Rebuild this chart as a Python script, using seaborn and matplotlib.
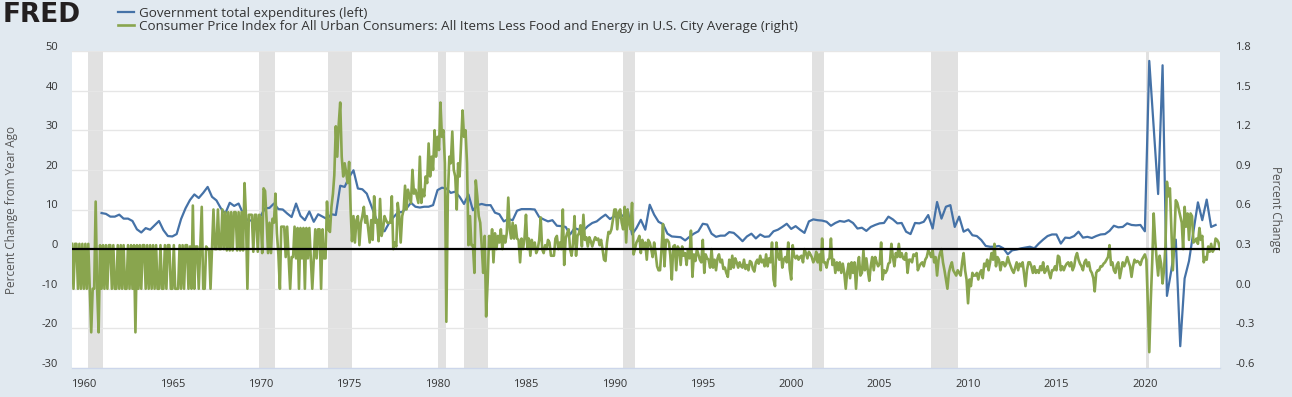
import pandas as pd
import matplotlib
matplotlib.use("Agg")
import matplotlib.pyplot as plt
import matplotlib.dates as mdates
import matplotlib.transforms as mtransforms
import seaborn as sns

# Government total expenditures, percent change from year ago (quarterly, from 1961Q1)
gov_1960s = [9.1, 8.9, 8.2, 8.2, 8.7, 7.7, 7.7, 7.1, 5.0, 4.2, 5.3, 4.9,
             6.0, 7.1, 4.8, 3.3, 3.2, 3.8, 7.6, 10.3, 12.4, 13.8, 12.9, 14.2,
             15.7, 13.2, 12.3, 10.3, 9.0, 11.7, 10.9, 11.5, 9.0, 7.3, 7.2, 6.6]
gov_1970s = [8.4, 10.3, 10.4, 11.5, 10.1, 10.0, 9.0, 8.1, 11.5, 8.4, 7.3, 9.5,
             6.9, 8.8, 8.2, 7.6, 8.8, 8.6, 16.0, 15.7, 18.2, 19.9, 15.3, 15.1,
             14.0, 11.0, 8.0, 5.5, 4.5, 6.5, 8.0, 9.2, 9.4, 10.3, 11.7, 10.7,
             10.5, 10.7, 10.7, 11.1]
gov_1980s = [14.9, 15.5, 15.3, 14.2, 14.5, 13.2, 11.4, 13.8, 9.8, 11.1, 11.4, 11.1,
             11.1, 9.2, 8.8, 7.0, 7.6, 7.3, 9.7, 10.1, 10.1, 10.1, 10.0, 8.1,
             7.5, 7.0, 7.3, 5.9, 5.8, 5.6, 3.7, 5.3, 4.9, 4.7, 5.8, 6.6,
             7.0, 7.9, 8.7, 7.6]
gov_1990s = [8.3, 7.9, 8.5, 10.0, 3.7, 5.3, 7.4, 4.9, 11.2, 8.7, 6.9, 6.3,
             3.9, 3.2, 3.1, 3.0, 2.2, 3.1, 3.9, 4.5, 6.4, 6.2, 3.9, 3.1,
             3.4, 3.4, 4.3, 4.1, 3.1, 2.0, 3.2, 3.9, 2.7, 3.7, 3.1, 3.2,
             4.5, 4.9, 5.6, 6.4]
gov_2000s = [5.1, 5.8, 4.9, 4.1, 7.0, 7.5, 7.3, 7.2, 6.9, 5.9, 6.6, 7.1,
             6.9, 7.3, 6.6, 5.2, 5.4, 4.6, 5.6, 6.1, 6.5, 6.6, 8.2, 7.5,
             6.5, 6.6, 4.4, 3.8, 6.6, 6.5, 6.9, 8.6, 5.2, 11.9, 7.7, 10.7,
             11.1, 5.6, 8.2, 4.4]
gov_2010s = [5.0, 3.5, 3.3, 2.3, 0.8, 0.6, 0.6, 0.8, 0.2, -1.3, -0.3, -0.1,
             0.2, 0.4, 0.6, 0.2, 1.4, 2.4, 3.3, 3.7, 3.7, 1.4, 2.9, 2.8,
             3.3, 4.4, 2.9, 3.1, 2.8, 3.3, 3.7, 3.8, 4.6, 5.9, 5.5, 5.6,
             6.5, 6.1, 6.0, 6.1]
gov_2020s = [4.5, 47.5, 30.7, 13.9, 46.4, -11.8, -5.3, 2.4, -24.5, -7.4, -3.0, 4.5,
             11.8, 7.3, 12.5, 5.6, 6.1]

# Core CPI, percent change (monthly, from May 1959)
cpi_1950s = [0.34, 0.0, 0.34, 0.34, 0.0, 0.34, 0.0, 0.34]
cpi_1960s = [0.0, 0.34, 0.0, 0.34, 0.0, -0.33, 0.0, 0.0, 0.66, 0.0, -0.33, 0.33,
             0.0, 0.33, 0.0, 0.33, 0.0, 0.33, 0.33, 0.0, 0.33, 0.0, 0.0, 0.33,
             0.0, 0.33, 0.0, 0.33, 0.0, 0.0, 0.33, 0.0, 0.33, 0.0, 0.33, -0.33,
             0.33, 0.0, 0.33, 0.0, 0.33, 0.33, 0.0, 0.33, 0.0, 0.33, 0.0, 0.33,
             0.0, 0.33, 0.0, 0.0, 0.33, 0.0, 0.0, 0.33, 0.0, 0.33, 0.33, 0.0,
             0.0, 0.33, 0.0, 0.0, 0.0, 0.33, 0.0, 0.33, 0.0, 0.33, 0.33, 0.0,
             0.32, 0.0, 0.63, 0.0, 0.32, 0.32, 0.0, 0.32, 0.62, 0.0, 0.0, 0.32,
             0.3, 0.3, 0.0, 0.3, 0.6, 0.3, 0.3, 0.6, 0.3, 0.3, 0.6, 0.3,
             0.58, 0.29, 0.58, 0.29, 0.58, 0.29, 0.58, 0.58, 0.29, 0.58, 0.29, 0.58,
             0.29, 0.8, 0.56, 0.0, 0.56, 0.56, 0.56, 0.28, 0.56, 0.56, 0.28, 0.56]
cpi_1970s = [0.53, 0.27, 0.76, 0.74, 0.53, 0.27, 0.5, 0.27, 0.53, 0.5, 0.72, 0.42,
             0.26, 0.0, 0.47, 0.47, 0.47, 0.24, 0.47, 0.24, 0.0, 0.24, 0.24, 0.47,
             0.23, 0.46, 0.0, 0.46, 0.23, 0.46, 0.0, 0.46, 0.23, 0.46, 0.23, 0.0,
             0.23, 0.45, 0.23, 0.45, 0.45, 0.0, 0.45, 0.23, 0.23, 0.66, 0.45, 0.43,
             0.62, 0.72, 0.86, 1.23, 1.0, 1.25, 1.41, 1.0, 0.85, 0.95, 0.88, 0.8,
             0.96, 0.6, 0.36, 0.55, 0.35, 0.52, 0.55, 0.33, 0.5, 0.55, 0.62, 0.5,
             0.55, 0.45, 0.35, 0.52, 0.37, 0.7, 0.5, 0.52, 0.36, 0.68, 0.4, 0.45,
             0.55, 0.52, 0.5, 0.5, 0.5, 0.7, 0.3, 0.35, 0.32, 0.65, 0.55, 0.35,
             0.55, 0.6, 0.78, 0.6, 0.75, 0.7, 0.65, 0.9, 0.72, 0.75, 0.7, 0.65,
             1.0, 0.65, 0.75, 0.7, 0.85, 0.8, 1.1, 0.85, 1.0, 0.9, 1.2, 1.0]
cpi_1980s = [1.15, 1.05, 1.41, 1.15, 1.2, 0.95, -0.25, 0.7, 1.0, 0.95, 1.19, 0.9,
             0.85, 0.6, 0.95, 0.85, 1.1, 1.35, 1.15, 1.2, 0.95, 0.33, 0.55, 0.33,
             0.33, 0.12, 0.82, 0.7, 0.55, 0.5, 0.33, 0.12, 0.4, -0.21, 0.05, 0.4,
             0.3, 0.45, 0.2, 0.42, 0.3, 0.4, 0.35, 0.45, 0.3, 0.4, 0.35, 0.42,
             0.69, 0.45, 0.38, 0.5, 0.38, 0.48, 0.38, 0.37, 0.2, 0.38, 0.3, 0.38,
             0.56, 0.3, 0.38, 0.25, 0.37, 0.3, 0.35, 0.27, 0.3, 0.37, 0.54, 0.3,
             0.27, 0.33, 0.3, 0.37, 0.35, 0.25, 0.25, 0.25, 0.38, 0.4, 0.3, 0.35,
             0.3, 0.6, 0.18, 0.38, 0.42, 0.45, 0.3, 0.25, 0.35, 0.55, 0.25, 0.4,
             0.42, 0.48, 0.32, 0.56, 0.37, 0.39, 0.32, 0.39, 0.36, 0.32, 0.36, 0.39,
             0.37, 0.38, 0.33, 0.37, 0.3, 0.22, 0.21, 0.35, 0.43, 0.42, 0.45, 0.52]
cpi_1990s = [0.6, 0.6, 0.45, 0.58, 0.6, 0.5, 0.45, 0.62, 0.35, 0.6, 0.5, 0.45,
             0.65, 0.26, 0.3, 0.35, 0.37, 0.4, 0.27, 0.37, 0.3, 0.35, 0.22, 0.37,
             0.35, 0.3, 0.24, 0.35, 0.27, 0.17, 0.14, 0.14, 0.3, 0.49, 0.17, 0.37,
             0.37, 0.35, 0.25, 0.07, 0.32, 0.33, 0.14, 0.32, 0.3, 0.18, 0.32, 0.25,
             0.27, 0.18, 0.3, 0.23, 0.44, 0.09, 0.26, 0.21, 0.3, 0.26, 0.22, 0.2,
             0.37, 0.12, 0.26, 0.23, 0.22, 0.16, 0.3, 0.16, 0.22, 0.14, 0.23, 0.26,
             0.2, 0.22, 0.15, 0.16, 0.12, 0.09, 0.22, 0.15, 0.25, 0.16, 0.23, 0.2,
             0.16, 0.2, 0.17, 0.16, 0.22, 0.15, 0.18, 0.14, 0.21, 0.2, 0.15, 0.13,
             0.2, 0.22, 0.19, 0.25, 0.2, 0.22, 0.17, 0.26, 0.17, 0.23, 0.2, 0.35,
             0.07, 0.02, 0.35, 0.25, 0.22, 0.3, 0.16, 0.22, 0.24, 0.2, 0.35, 0.15]
cpi_2000s = [0.07, 0.33, 0.25, 0.23, 0.25, 0.22, 0.24, 0.25, 0.2, 0.3, 0.27, 0.23,
             0.28, 0.26, 0.24, 0.2, 0.22, 0.28, 0.2, 0.26, 0.14, 0.38, 0.2, 0.2,
             0.16, 0.22, 0.23, 0.38, 0.18, 0.22, 0.12, 0.2, 0.14, 0.2, 0.12, 0.19,
             0.12, 0.0, 0.12, 0.19, 0.08, 0.2, 0.12, 0.2, 0.0, 0.17, 0.24, 0.1,
             0.12, 0.29, 0.14, 0.23, 0.14, 0.06, 0.17, 0.24, 0.14, 0.24, 0.2, 0.17,
             0.19, 0.35, 0.07, 0.14, 0.12, 0.14, 0.19, 0.2, 0.34, 0.24, 0.17, 0.27,
             0.24, 0.34, 0.24, 0.27, 0.23, 0.22, 0.27, 0.12, 0.22, 0.22, 0.2, 0.26,
             0.25, 0.27, 0.14, 0.17, 0.19, 0.2, 0.17, 0.22, 0.24, 0.29, 0.27, 0.24,
             0.29, 0.2, 0.24, 0.1, 0.22, 0.27, 0.3, 0.2, 0.14, 0.07, 0.0, 0.12,
             0.17, 0.2, 0.14, 0.12, 0.1, 0.14, 0.12, 0.1, 0.2, 0.27, 0.14, 0.07]
cpi_2010s = [-0.11, 0.07, 0.02, 0.12, 0.1, 0.1, 0.12, 0.07, 0.12, 0.14, 0.08, 0.19,
             0.17, 0.22, 0.14, 0.2, 0.27, 0.22, 0.34, 0.17, 0.24, 0.22, 0.14, 0.2,
             0.2, 0.17, 0.19, 0.24, 0.2, 0.17, 0.14, 0.12, 0.16, 0.2, 0.14, 0.19,
             0.17, 0.2, 0.12, 0.02, 0.14, 0.2, 0.2, 0.17, 0.12, 0.17, 0.12, 0.14,
             0.12, 0.17, 0.14, 0.2, 0.12, 0.14, 0.17, 0.12, 0.08, 0.14, 0.14, 0.17,
             0.14, 0.25, 0.24, 0.14, 0.17, 0.14, 0.17, 0.19, 0.2, 0.17, 0.2, 0.14,
             0.17, 0.24, 0.27, 0.22, 0.19, 0.17, 0.14, 0.2, 0.22, 0.17, 0.2, 0.14,
             0.12, 0.08, -0.02, 0.12, 0.14, 0.14, 0.17, 0.17, 0.19, 0.2, 0.22, 0.24,
             0.33, 0.18, 0.2, 0.14, 0.12, 0.18, 0.2, 0.08, 0.14, 0.2, 0.17, 0.2,
             0.24, 0.2, 0.17, 0.09, 0.17, 0.22, 0.2, 0.21, 0.2, 0.18, 0.22, 0.24]
cpi_2020s = [0.26, 0.22, -0.1, -0.48, -0.1, 0.2, 0.57, 0.37, 0.22, 0.1, 0.25, 0.19,
             0.04, 0.15, 0.32, 0.81, 0.7, 0.76, 0.45, 0.14, 0.38, 0.67, 0.65, 0.6,
             0.55, 0.5, 0.3, 0.62, 0.47, 0.57, 0.37, 0.57, 0.55, 0.35, 0.36, 0.38,
             0.34, 0.46, 0.37, 0.4, 0.2, 0.24, 0.22, 0.32, 0.28, 0.34, 0.28, 0.3,
             0.38, 0.37, 0.35, 0.3]

recession_starts = ["1960-04-01", "1969-12-01", "1973-11-01", "1980-01-01", "1981-07-01",
                    "1990-07-01", "2001-03-01", "2007-12-01", "2020-02-01"]
recession_ends = ["1961-02-01", "1970-11-01", "1975-03-01", "1980-07-01", "1982-11-01",
                  "1991-03-01", "2001-11-01", "2009-06-01", "2020-04-01"]

gov = gov_1960s + gov_1970s + gov_1980s + gov_1990s + gov_2000s + gov_2010s + gov_2020s
cpi = cpi_1950s + cpi_1960s + cpi_1970s + cpi_1980s + cpi_1990s + cpi_2000s + cpi_2010s + cpi_2020s
gov_df = pd.DataFrame({"date": pd.date_range("1961-01-01", periods=len(gov), freq="QS"), "value": gov})
cpi_df = pd.DataFrame({"date": pd.date_range("1959-05-01", periods=len(cpi), freq="MS"), "value": cpi})

plt.rcParams["font.family"] = ["Open Sans", "DejaVu Sans"]
plt.rcParams["axes.unicode_minus"] = False

blue = "#4572a7"
green = "#89a54e"
txt = "#333333"

fig = plt.figure(figsize=(12.92, 3.97), dpi=100, facecolor="#e1e9f0")
ax = fig.add_axes([72 / 1292, 29 / 397, 1148 / 1292, 317 / 397])
ax.set_facecolor("white")
ax2 = ax.twinx()
ax2.patch.set_visible(False)

for s, e in zip(recession_starts, recession_ends):
    ax.axvspan(pd.Timestamp(s), pd.Timestamp(e), color="#e1e1e1", lw=0, zorder=0)

sns.lineplot(data=gov_df, x="date", y="value", ax=ax, color=blue, lw=1.6, zorder=3)
sns.lineplot(data=cpi_df, x="date", y="value", ax=ax2, color=green, lw=1.9, zorder=3)
ax2.axhline(0.3, color="black", lw=1.6, zorder=5)

ax.set_xlim(pd.Timestamp("1959-05-01"), pd.Timestamp("2024-04-01"))
ax.set_ylim(-30, 50)
ax.set_yticks(range(-30, 51, 10))
ax2.set_ylim(-0.6, 1.8)
ax2.set_yticks([-0.6, -0.3, 0.0, 0.3, 0.6, 0.9, 1.2, 1.5, 1.8])
ax2.set_yticklabels(["{:.1f}".format(v) for v in ax2.get_yticks()])

ax.yaxis.grid(True, color="#e6e6e6", lw=1)
ax.set_axisbelow(True)
ax.xaxis.set_major_locator(mdates.YearLocator(5))
ax.xaxis.set_major_formatter(mdates.DateFormatter("%Y"))

for a in (ax, ax2):
    for side in ("top", "left", "right"):
        a.spines[side].set_visible(False)
    a.spines["bottom"].set_color("#ccd6eb")
    a.set_xlabel("")

ax.tick_params(axis="y", length=0, pad=10, labelsize=8, labelcolor=txt)
ax2.tick_params(axis="y", length=0, pad=11, labelsize=8, labelcolor=txt)
ax.tick_params(axis="x", length=0, pad=8, labelsize=8, labelcolor=txt)

# FRED draws y tick labels slightly above their gridline
shift = mtransforms.ScaledTranslation(0, 5 / 100, fig.dpi_scale_trans)
for lab in ax.get_yticklabels() + ax2.get_yticklabels():
    lab.set_transform(lab.get_transform() + shift)

ax.set_ylabel("Percent Change from Year Ago", fontsize=8.5, color="#555555")
ax.yaxis.set_label_coords(-54 / 1148, 0.5)
ax2.set_ylabel("Percent Change", fontsize=8.5, color="#555555", rotation=270, va="center")
ax2.yaxis.set_label_coords(1 + 55 / 1148, 0.5)

fig.text(3 / 1292, 1 - 2 / 397, "FRED", fontsize=19, fontweight="bold", color="#231f20",
         va="top", ha="left", family="DejaVu Sans")
fig.legend(handles=[ax.lines[0], ax2.lines[0]],
           labels=["Government total expenditures (left)",
                   "Consumer Price Index for All Urban Consumers: All Items Less Food and Energy in U.S. City Average (right)"],
           loc="upper left", bbox_to_anchor=(110 / 1292, 1 + 1 / 397), frameon=False,
           fontsize=9.6, handlelength=1.2, handletextpad=0.4, labelspacing=0.0,
           borderpad=0.1, labelcolor=txt)

fig.savefig("out.png", dpi=100, facecolor=fig.get_facecolor())
